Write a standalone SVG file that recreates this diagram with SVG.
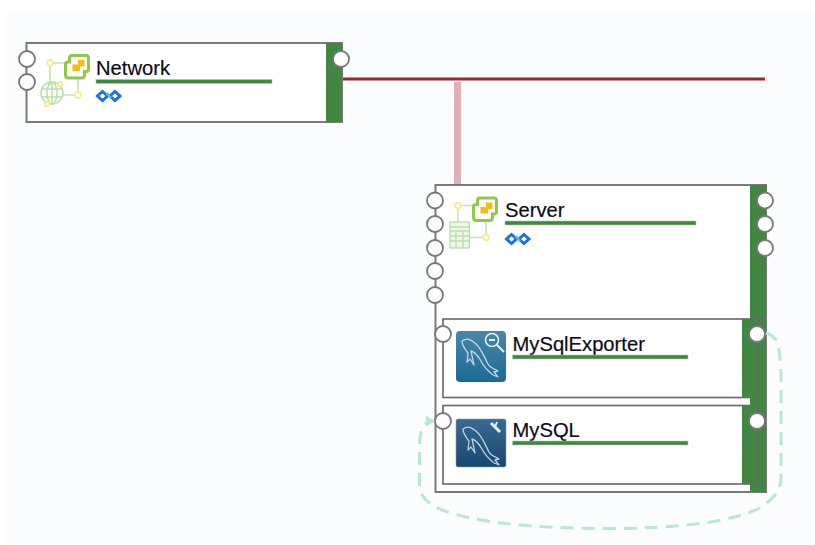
<svg xmlns="http://www.w3.org/2000/svg" width="815" height="545" viewBox="0 0 815 545">
<style>
.bg{fill:#fbfcfe}
.box{fill:#fff;stroke:#7a7a7a;stroke-width:2}
.inner{fill:#fff;stroke:#666;stroke-width:1.6}
.bar{fill:#438643}
.ul{fill:#438643;stroke:#a9cba9;stroke-width:.6}
.port{fill:#fff;stroke:#777;stroke-width:1.800}
.lbl{font-family:"Liberation Sans",Arial,sans-serif;font-size:20.2px;fill:#0c0c14;stroke:#0c0c14;stroke-width:.2px}
.ic{fill:none;stroke:#c6e4b0;stroke-width:1.600}
.dot{fill:#fff;stroke:#fbe98f;stroke-width:1.800}
.fish{fill:none;stroke:#d8e6ee;stroke-width:1.300;stroke-linejoin:round;stroke-linecap:round;opacity:.85}
</style>
<defs>
<g id="vm">
<path class="ic" d="M50 63H68M50 63V85M78 76V95M78 95H62"/>
<circle class="dot" cx="50" cy="63" r="2.800"/>
<circle class="dot" cx="78" cy="95" r="2.800"/>
<path d="M72 55.500H86Q88.500 55.500 88.500 58V69Q88.500 71.500 86 71.500H84.500V75Q84.500 78 81.500 78H68.500Q65.500 78 65.500 75V64Q65.500 62 68 62H69.500V58Q69.500 55.500 72 55.500Z" fill="#fdfdf0" stroke="#93c553" stroke-width="3"/>
<path d="M78 60H84.500V66.500H80V71H72.500V64.500H78Z" fill="#f5bb25"/>
</g>
<g id="inf" fill="none">
<path d="M6.500 1.500L11.500 6L6.500 10.500L1.500 6Z" stroke="#1f6fd6" stroke-width="3"/>
<path d="M19 1.500L24 6L19 10.500L14 6Z" stroke="#1f6fd6" stroke-width="3"/>
<path d="M10.500 3L15 8" stroke="#5db8f2" stroke-width="2.600"/>
</g>
<path id="fishp" class="fish" d="M5 8C10 4 14 7 18 10C25 16 27 24 31 31C33 35 38 36 41 38L37 39L41 44L36 42C31 38 27 34 24 28C21 23 18 19 14 18L17 32L13 26L10 29L11 20C8 16 5 13 5 8Z"/>
<linearGradient id="g1" x1="0" y1="0" x2="0" y2="1"><stop offset="0" stop-color="#4a87a6"/><stop offset="1" stop-color="#1c6a97"/></linearGradient>
<linearGradient id="g2" x1="0" y1="0" x2="0" y2="1"><stop offset="0" stop-color="#3a6a93"/><stop offset="1" stop-color="#17476f"/></linearGradient>
<marker id="ah" markerWidth="10" markerHeight="12" refX="8" refY="5.500" orient="auto" markerUnits="userSpaceOnUse"><path d="M0 0L9 5.500L0 11Z" fill="#bde6d2"/></marker>
</defs>
<rect class="bg" x="5" y="14" width="810" height="531"/>
<g id="connectors-back">
<path d="M457.500 82V185" stroke="#dcb1b8" stroke-width="7" fill="none"/>
<path d="M342 79H765" stroke="#9c2733" stroke-width="3" fill="none"/>
</g>
<g id="network">
<rect class="box" x="26.500" y="43" width="315.500" height="79"/>
<rect class="bar" x="326" y="43" width="16" height="79"/>
<use href="#vm"/>
<g fill="none" stroke="#b9dfa8" stroke-width="1.500"><circle cx="52" cy="93" r="11"/><ellipse cx="52" cy="93" rx="5" ry="11"/><path d="M42 89H62M42 97H62M52 82V104"/></g>
<circle class="dot" cx="60" cy="84" r="2.200"/><circle class="dot" cx="47" cy="104" r="2.200"/>
<text class="lbl" x="96" y="75">Network</text>
<rect class="ul" x="96" y="79.500" width="176" height="4"/>
<use href="#inf" x="96" y="90"/>
<circle class="port" cx="27" cy="59" r="8"/>
<circle class="port" cx="27" cy="82" r="8"/>
<circle class="port" cx="341" cy="59" r="8"/>
</g>
<g id="server">
<rect class="box" x="435.500" y="185" width="330.500" height="307"/>
<rect class="bar" x="750" y="185" width="16" height="307"/>
<use href="#vm" x="408" y="142.500"/>
<g fill="#eef7e8" stroke="#b9dfa8" stroke-width="1.300"><rect x="450" y="222" width="19.500" height="26"/><path d="M450 227H469.500M450 231H469.500M450 236H469.500M450 241H469.500M456 231V248M463 231V248" fill="none"/></g>
<text class="lbl" x="505" y="217">Server</text>
<rect class="ul" x="505" y="221" width="191" height="4"/>
<use href="#inf" x="505" y="233"/>
<circle class="port" cx="435" cy="200.500" r="8"/>
<circle class="port" cx="435" cy="224" r="8"/>
<circle class="port" cx="435" cy="248" r="8"/>
<circle class="port" cx="435" cy="271" r="8"/>
<circle class="port" cx="435" cy="295" r="8"/>
<circle class="port" cx="765" cy="200.500" r="8"/>
<circle class="port" cx="765" cy="224" r="8"/>
<circle class="port" cx="765" cy="248" r="8"/>
</g>
<g id="mysqlexporter">
<rect class="inner" x="443" y="319" width="315" height="78.500"/>
<rect class="bar" x="742" y="319" width="16" height="78.500"/>
<path d="M758 319V397" stroke="#666" stroke-width="1"/>
<rect x="456" y="331" width="50" height="51" rx="4" fill="url(#g1)"/>
<use href="#fishp" transform="translate(457 333)"/>
<circle cx="492" cy="340" r="6.500" fill="none" stroke="#e4eef3" stroke-width="1.500"/><path d="M489 340H495M497 345L504 352" stroke="#e4eef3" stroke-width="2" fill="none"/>
<text class="lbl" x="512.500" y="351">MySqlExporter</text>
<rect class="ul" x="512.500" y="355" width="175.500" height="4"/>
<circle class="port" cx="443" cy="334" r="8"/>
<circle class="port" cx="757" cy="334" r="8"/>
</g>
<g id="mysql">
<rect class="inner" x="443" y="405.500" width="315" height="78.500"/>
<rect class="bar" x="742" y="405.500" width="16" height="78.500"/>
<path d="M758 405.500V484" stroke="#666" stroke-width="1"/>
<rect x="456" y="419" width="50" height="48" rx="2" fill="url(#g2)" stroke="#8a9aa8" stroke-width=".6"/>
<use href="#fishp" transform="translate(458 421)"/>
<path d="M491 423L500 432" stroke="#e4eef3" stroke-width="3" fill="none"/><path d="M497 422L495 427" stroke="#e4eef3" stroke-width="2" fill="none"/>
<text class="lbl" x="512.500" y="437">MySQL</text>
<rect class="ul" x="512.500" y="441" width="175.500" height="4"/>
<circle class="port" cx="443" cy="421" r="8"/>
<circle class="port" cx="757" cy="421" r="8"/>
</g>
<g id="connectors">
<path d="M766 333C775 336 778 341 779 350C781 362 781 375 781 390V477C781 490 775 498 760 508C735 520 690 529 600 528.500C530 528 475 522 445 511C428 505 420 497 419.500 485V447C419.500 430 423 421 434 421" fill="none" stroke="#bde6d2" stroke-width="3" stroke-dasharray="13 8" marker-end="url(#ah)"/>
</g>
</svg>
